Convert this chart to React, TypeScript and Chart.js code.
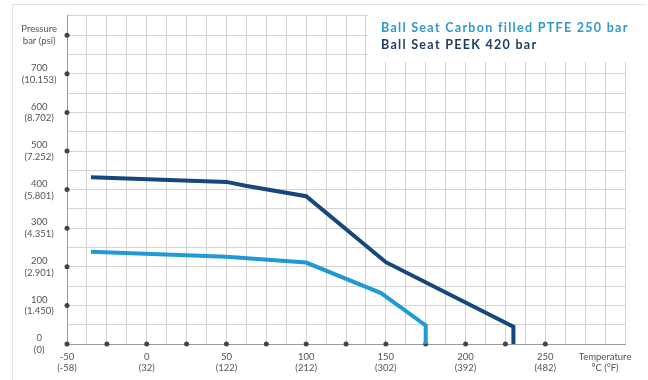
import { useEffect, useRef } from 'react';
import { Chart, registerables } from 'chart.js';

Chart.register(...registerables);

// Axis tick labels
const temperatureC = [-50, 0, 50, 100, 150, 200, 250];
const temperatureF = ['-58', '32', '122', '212', '302', '392', '482'];
const pressureBar = [0, 100, 200, 300, 400, 500, 600, 700];
const pressurePsi = ['0', '1.450', '2.901', '4.351', '5.801', '7.252', '8.702', '10.153'];
const xAxisTitle = ['Temperature', '°C (°F)'];
const yAxisTitle = ['Pressure', 'bar (psi)'];

// Series
const seriesNames = ['Ball Seat Carbon filled PTFE 250 bar', 'Ball Seat PEEK 420 bar'];
const ptfeTemp = [-35, 50, 100, 147, 175, 175];
const ptfePressure = [239, 226, 211, 132, 48, 0];
const peekTemp = [-35, 50, 62, 100, 150, 230, 230];
const peekPressure = [432, 420, 410, 383, 212, 45, 0];

// Axis marker dots
const xDotTemps = [-50, -25, 0, 25, 50, 75, 100, 125, 150, 175, 200, 225, 250];
const yDotPressures = [100, 200, 300, 400, 500, 600, 700, 800];

const ptfeColor = '#1f9ad6';
const peekColor = '#15467c';
const legendColors = ['#2f98cc', '#1e3d66'];

export default function App() {
  const ref = useRef<HTMLCanvasElement | null>(null);

  useEffect(() => {
    if (!ref.current) return;
    const toXY = (xs: number[], ys: number[]) => xs.map((x, i) => ({ x, y: ys[i] }));
    const dots = [
      ...xDotTemps.map((x) => ({ x, y: 0 })),
      ...yDotPressures.map((y) => ({ x: -50, y })),
    ];

    const overlay = {
      id: 'overlay',
      afterDraw(chart: any) {
        const ctx = chart.ctx;
        ctx.save();
        // white legend box
        ctx.fillStyle = '#ffffff';
        ctx.fillRect(368, 5, 280, 57);
        // legend text
        ctx.font = 'bold 12.5px Lato';
        (ctx as any).letterSpacing = '1.3px';
        ctx.textBaseline = 'middle';
        ctx.textAlign = 'left';
        ctx.fillStyle = legendColors[0];
        ctx.fillText(seriesNames[0], 381, 28);
        ctx.fillStyle = legendColors[1];
        ctx.fillText(seriesNames[1], 381, 45);
        (ctx as any).letterSpacing = '0px';
        // faint frame
        ctx.strokeStyle = '#e2e2e2';
        ctx.lineWidth = 1;
        ctx.beginPath();
        ctx.moveTo(12.5, 380);
        ctx.lineTo(12.5, 4.5);
        ctx.lineTo(645.5, 4.5);
        ctx.stroke();
        ctx.restore();
      },
    };

    const chart = new Chart(ref.current, {
      type: 'line',
      data: {
        datasets: [
          {
            label: seriesNames[0],
            data: toXY(ptfeTemp, ptfePressure),
            borderColor: ptfeColor,
            borderWidth: 4,
            pointRadius: 0,
            tension: 0,
            fill: false,
          },
          {
            label: seriesNames[1],
            data: toXY(peekTemp, peekPressure),
            borderColor: peekColor,
            borderWidth: 4,
            pointRadius: 0,
            tension: 0,
            fill: false,
          },
          {
            label: 'ticks',
            data: dots,
            showLine: false,
            pointRadius: 2.5,
            pointBackgroundColor: '#444444',
            pointBorderWidth: 0,
            clip: false as any,
          } as any,
        ],
      },
      options: {
        animation: false,
        responsive: true,
        maintainAspectRatio: false,
        layout: { padding: { left: 12, top: 6, right: 23, bottom: 0 } },
        plugins: {
          legend: { display: false },
          tooltip: { enabled: false },
        },
        scales: {
          x: {
            type: 'linear',
            min: -50,
            max: 300,
            afterFit: (s: any) => { s.height = 36; },
            border: { display: true, color: '#9a9a9a', width: 1 },
            grid: { color: '#d3d3d3', drawTicks: false },
            ticks: {
              stepSize: 12.5,
              autoSkip: false,
              maxRotation: 0,
              padding: 7,
              color: '#555555',
              font: { family: 'Lato', size: 9.5, lineHeight: 1.2 },
              callback: (v: any) => {
                const val = Number(v);
                const i = temperatureC.indexOf(val);
                if (i >= 0) return [String(val), '(' + temperatureF[i] + ')'];
                if (val === 287.5) return xAxisTitle;
                return '';
              },
            },
          },
          y: {
            type: 'linear',
            min: 0,
            max: 850,
            afterFit: (s: any) => { s.width = 55; },
            border: { display: true, color: '#9a9a9a', width: 1 },
            grid: { color: '#d3d3d3', drawTicks: false },
            ticks: {
              stepSize: 50,
              autoSkip: false,
              padding: 10,
              crossAlign: 'center',
              color: '#555555',
              font: { family: 'Lato', size: 9.5, lineHeight: 1.25 },
              callback: (v: any) => {
                const val = Number(v);
                const i = pressureBar.indexOf(val);
                if (i >= 0) return [String(val), '(' + pressurePsi[i] + ')'];
                if (val === 800) return yAxisTitle;
                return '';
              },
            },
          },
        },
      },
      plugins: [overlay],
    });
    return () => chart.destroy();
  }, []);

  return (
    <div style={{ position: 'fixed', left: 0, top: 0, width: 648, height: 380, background: '#ffffff' }}>
      <canvas ref={ref} />
    </div>
  );
}
